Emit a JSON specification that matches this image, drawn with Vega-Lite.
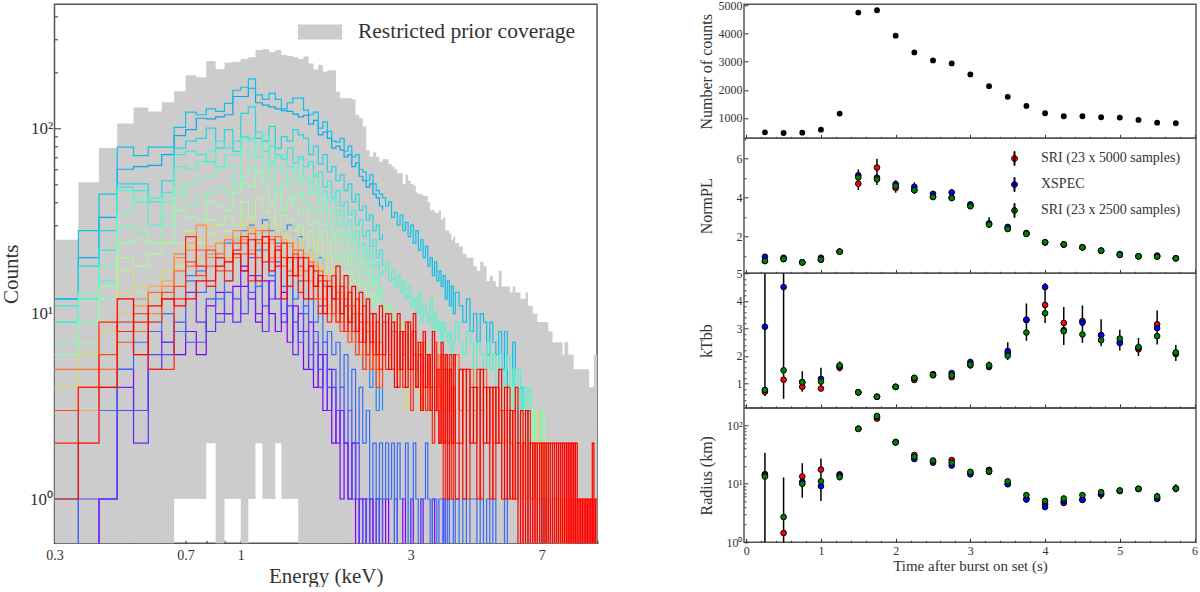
{"$schema":"https://vega.github.io/schema/vega-lite/v6.json","background":"white","padding":{"left":-0.5,"top":-1.7,"right":0,"bottom":0},"spacing":146.5,"bounds":"flush","config":{"font":"Liberation Serif","view":{"stroke":"#555","strokeWidth":1.5},"axis":{"grid":false,"domain":false,"labelFont":"Liberation Serif","titleFont":"Liberation Serif","labelColor":"#333","titleColor":"#333","tickColor":"#333","titleFontWeight":"normal","labelOverlap":false,"labelBound":false,"labelFlush":false},"legend":{"labelFont":"Liberation Serif","labelColor":"#333","labelLimit":400}},
"datasets":{"spec":[
{"e":0.3,"T":25,"L":0.5,"a":0.5,"b":0.5,"c":0.5,"d":0.5,"e1":1,"f":12,"g":12,"h":9,"i":11,"j":9,"k":6,"l":7,"m":6,"n":4,"o":5,"p":4,"q":3,"r":3,"s":3,"t":5,"u":3,"v":2,"w":1},
{"e":0.35,"T":51,"L":0.5,"a":0.5,"b":0.5,"c":1,"d":3,"e1":3,"f":20,"g":28,"h":18,"i":12,"j":12,"k":13,"l":9,"m":7,"n":6,"o":5,"p":6,"q":4,"r":3,"s":4,"t":5,"u":4,"v":4,"w":2},
{"e":0.4,"T":78,"L":0.5,"a":1,"b":1,"c":1,"d":3,"e1":4,"f":33,"g":44,"h":28,"i":22,"j":15,"k":18,"l":12,"m":14,"n":9,"o":6,"p":9,"q":8,"r":5,"s":4,"t":5,"u":6,"v":9,"w":4},
{"e":0.45,"T":106,"L":0.5,"a":5,"b":4,"c":3,"d":5,"e1":9,"f":60,"g":79,"h":50,"i":48,"j":46,"k":35,"l":30,"m":24,"n":20,"o":17,"p":13,"q":10,"r":12,"s":8,"t":9,"u":7,"v":8,"w":12},
{"e":0.5,"T":129,"L":0.5,"a":3,"b":2,"c":3,"d":7,"e1":12,"f":62,"g":71,"h":50,"i":46,"j":40,"k":42,"l":28,"m":25,"n":18,"o":13,"p":14,"q":12,"r":9,"s":11,"t":8,"u":10,"v":9,"w":6},
{"e":0.55,"T":123,"L":0.5,"a":8,"b":5,"c":6,"d":8,"e1":9,"f":63,"g":79,"h":42,"i":40,"j":30,"k":42,"l":24,"m":24,"n":21,"o":13,"p":12,"q":10,"r":14,"s":10,"t":13,"u":9,"v":5,"w":11},
{"e":0.6,"T":138,"L":0.5,"a":7,"b":7,"c":6,"d":10,"e1":12,"f":72,"g":79,"h":52,"i":45,"j":40,"k":33,"l":30,"m":24,"n":24,"o":17,"p":17,"q":14,"r":15,"s":14,"t":12,"u":13,"v":5,"w":12},
{"e":0.65,"T":158,"L":1,"a":6,"b":8,"c":9,"d":8,"e1":21,"f":91,"g":101,"h":78,"i":72,"j":62,"k":45,"l":48,"m":36,"n":24,"o":18,"p":22,"q":19,"r":21,"s":20,"t":17,"u":14,"v":12,"w":11},
{"e":0.7,"T":193,"L":1,"a":8,"b":13,"c":7,"d":15,"e1":16,"f":98,"g":122,"h":85,"i":75,"j":60,"k":50,"l":38,"m":33,"n":28,"o":22,"p":23,"q":27,"r":24,"s":22,"t":18,"u":19,"v":26,"w":12},
{"e":0.75,"T":188,"L":1,"a":6,"b":9,"c":7,"d":13,"e1":17,"f":113,"g":118,"h":88,"i":72,"j":66,"k":55,"l":42,"m":32,"n":24,"o":25,"p":25,"q":20,"r":18,"s":30,"t":22,"u":16,"v":18,"w":15},
{"e":0.8,"T":230,"L":2,"a":11,"b":8,"c":12,"d":14,"e1":21,"f":112,"g":127,"h":100,"i":66,"j":75,"k":55,"l":45,"m":40,"n":32,"o":27,"p":30,"q":21,"r":23,"s":20,"t":18,"u":22,"v":14,"w":15},
{"e":0.85,"T":208,"L":0.5,"a":13,"b":10,"c":9,"d":12,"e1":20,"f":115,"g":123,"h":78,"i":85,"j":62,"k":60,"l":48,"m":38,"n":30,"o":24,"p":23,"q":21,"r":18,"s":24,"t":21,"u":17,"v":20,"w":18},
{"e":0.9,"T":226,"L":1,"a":10,"b":10,"c":13,"d":15,"e1":24,"f":118,"g":136,"h":98,"i":78,"j":72,"k":63,"l":45,"m":36,"n":33,"o":28,"p":22,"q":26,"r":20,"s":19,"t":25,"u":17,"v":15,"w":19},
{"e":0.95,"T":228,"L":1,"a":14,"b":9,"c":12,"d":25,"e1":26,"f":148,"g":160,"h":75,"i":85,"j":72,"k":50,"l":48,"m":45,"n":30,"o":25,"p":26,"q":20,"r":24,"s":28,"t":20,"u":24,"v":22,"w":21},
{"e":1,"T":236,"L":0.5,"a":18,"b":14,"c":10,"d":17,"e1":28,"f":148,"g":166,"h":120,"i":90,"j":88,"k":78,"l":55,"m":50,"n":40,"o":30,"p":32,"q":24,"r":25,"s":25,"t":21,"u":24,"v":26,"w":17},
{"e":1.05,"T":241,"L":1,"a":12,"b":16,"c":13,"d":20,"e1":30,"f":164,"g":184,"h":130,"i":88,"j":85,"k":70,"l":62,"m":48,"n":33,"o":32,"p":27,"q":28,"r":29,"s":22,"t":27,"u":21,"v":15,"w":25},
{"e":1.1,"T":264,"L":2,"a":9,"b":10,"c":16,"d":14,"e1":22,"f":137,"g":151,"h":88,"i":95,"j":70,"k":82,"l":58,"m":58,"n":42,"o":28,"p":25,"q":25,"r":20,"s":28,"t":24,"u":20,"v":25,"w":15},
{"e":1.15,"T":266,"L":1,"a":15,"b":8,"c":11,"d":22,"e1":32,"f":133,"g":143,"h":85,"i":75,"j":92,"k":60,"l":52,"m":48,"n":35,"o":30,"p":30,"q":24,"r":26,"s":22,"t":28,"u":24,"v":19,"w":26},
{"e":1.2,"T":257,"L":1,"a":10,"b":15,"c":12,"d":16,"e1":28,"f":130,"g":154,"h":102,"i":80,"j":65,"k":66,"l":60,"m":40,"n":38,"o":33,"p":24,"q":21,"r":24,"s":26,"t":20,"u":19,"v":25,"w":17},
{"e":1.25,"T":264,"L":2,"a":8,"b":12,"c":18,"d":19,"e1":24,"f":127,"g":143,"h":78,"i":72,"j":70,"k":62,"l":46,"m":45,"n":30,"o":26,"p":28,"q":26,"r":18,"s":20,"t":26,"u":23,"v":18,"w":22},
{"e":1.3,"T":248,"L":1,"a":13,"b":9,"c":10,"d":14,"e1":28,"f":124,"g":127,"h":90,"i":68,"j":72,"k":58,"l":50,"m":36,"n":34,"o":28,"p":22,"q":20,"r":25,"s":24,"t":18,"u":20,"v":24,"w":12},
{"e":1.35,"T":245,"L":1,"a":7,"b":11,"c":14,"d":17,"e1":30,"f":123,"g":137,"h":85,"i":78,"j":62,"k":52,"l":48,"m":42,"n":32,"o":24,"p":26,"q":23,"r":19,"s":17,"t":24,"u":16,"v":14,"w":20},
{"e":1.4,"T":241,"L":1,"a":11,"b":6,"c":9,"d":12,"e1":22,"f":119,"g":145,"h":98,"i":65,"j":60,"k":60,"l":42,"m":38,"n":28,"o":28,"p":21,"q":18,"r":24,"s":22,"t":16,"u":21,"v":20,"w":16},
{"e":1.45,"T":236,"L":0.5,"a":8,"b":10,"c":7,"d":15,"e1":26,"f":115,"g":145,"h":92,"i":70,"j":68,"k":50,"l":45,"m":34,"n":30,"o":22,"p":24,"q":22,"r":17,"s":16,"t":22,"u":18,"v":13,"w":20},
{"e":1.5,"T":243,"L":0.5,"a":5,"b":8,"c":11,"d":10,"e1":20,"f":117,"g":125,"h":88,"i":62,"j":55,"k":55,"l":40,"m":36,"n":26,"o":26,"p":19,"q":16,"r":21,"s":20,"t":17,"u":15,"v":20,"w":12},
{"e":1.55,"T":223,"L":0.5,"a":9,"b":5,"c":6,"d":12,"e1":22,"f":105,"g":118,"h":72,"i":66,"j":50,"k":44,"l":38,"m":30,"n":28,"o":20,"p":22,"q":20,"r":15,"s":15,"t":19,"u":18,"v":12,"w":18},
{"e":1.6,"T":207,"L":0.5,"a":4,"b":7,"c":8,"d":9,"e1":17,"f":110,"g":122,"h":80,"i":55,"j":56,"k":48,"l":35,"m":32,"n":22,"o":24,"p":17,"q":14,"r":19,"s":18,"t":14,"u":12,"v":17,"w":14},
{"e":1.65,"T":219,"L":0.5,"a":6,"b":4,"c":5,"d":11,"e1":20,"f":92,"g":100,"h":64,"i":58,"j":44,"k":38,"l":36,"m":26,"n":25,"o":17,"p":18,"q":18,"r":14,"s":12,"t":17,"u":15,"v":10,"w":16},
{"e":1.7,"T":201,"L":0.5,"a":3,"b":6,"c":7,"d":7,"e1":14,"f":95,"g":108,"h":72,"i":48,"j":46,"k":42,"l":30,"m":28,"n":20,"o":20,"p":15,"q":12,"r":16,"s":16,"t":12,"u":11,"v":15,"w":10},
{"e":1.75,"T":205,"L":0.5,"a":5,"b":3,"c":4,"d":8,"e1":16,"f":88,"g":96,"h":58,"i":52,"j":40,"k":35,"l":32,"m":24,"n":22,"o":15,"p":16,"q":15,"r":11,"s":10,"t":15,"u":14,"v":9,"w":14},
{"e":1.8,"T":205,"L":0.5,"a":2,"b":4,"c":5,"d":6,"e1":12,"f":78,"g":85,"h":62,"i":42,"j":42,"k":36,"l":26,"m":26,"n":17,"o":17,"p":13,"q":11,"r":14,"s":14,"t":10,"u":10,"v":16,"w":12},
{"e":1.85,"T":157,"L":0.5,"a":3,"b":2,"c":3,"d":7,"e1":14,"f":80,"g":84,"h":52,"i":46,"j":34,"k":30,"l":28,"m":20,"n":19,"o":13,"p":14,"q":13,"r":10,"s":9,"t":13,"u":12,"v":9,"w":18},
{"e":1.9,"T":145,"L":0.5,"a":1,"b":3,"c":4,"d":4,"e1":10,"f":76,"g":88,"h":56,"i":38,"j":36,"k":32,"l":24,"m":22,"n":15,"o":15,"p":11,"q":10,"r":13,"s":12,"t":9,"u":8,"v":14,"w":10},
{"e":1.95,"T":145,"L":0.5,"a":2,"b":2,"c":2,"d":6,"e1":11,"f":70,"g":75,"h":46,"i":40,"j":30,"k":26,"l":25,"m":18,"n":17,"o":12,"p":13,"q":12,"r":9,"s":8,"t":12,"u":11,"v":8,"w":16},
{"e":2,"T":145,"L":0.5,"a":1,"b":1,"c":3,"d":3,"e1":8,"f":72,"g":80,"h":50,"i":34,"j":32,"k":28,"l":20,"m":20,"n":13,"o":14,"p":10,"q":9,"r":12,"s":11,"t":8,"u":7,"v":13,"w":9},
{"e":2.05,"T":143,"L":0.5,"a":2,"b":2,"c":1,"d":5,"e1":9,"f":62,"g":70,"h":40,"i":36,"j":26,"k":24,"l":22,"m":16,"n":15,"o":10,"p":12,"q":11,"r":8,"s":7,"t":11,"u":10,"v":8,"w":14},
{"e":2.1,"T":118,"L":0.5,"a":0.5,"b":1,"c":2,"d":2,"e1":6,"f":65,"g":72,"h":44,"i":30,"j":28,"k":25,"l":18,"m":17,"n":11,"o":12,"p":9,"q":8,"r":11,"s":10,"t":7,"u":6,"v":12,"w":8},
{"e":2.15,"T":113,"L":0.5,"a":1,"b":0.5,"c":1,"d":4,"e1":7,"f":55,"g":60,"h":36,"i":32,"j":23,"k":20,"l":19,"m":14,"n":13,"o":9,"p":10,"q":10,"r":7,"s":6,"t":10,"u":9,"v":7,"w":13},
{"e":2.2,"T":102,"L":0.5,"a":1,"b":1,"c":0.5,"d":2,"e1":5,"f":52,"g":58,"h":38,"i":26,"j":24,"k":22,"l":16,"m":15,"n":10,"o":11,"p":8,"q":7,"r":10,"s":9,"t":6,"u":5,"v":11,"w":7},
{"e":2.25,"T":76,"L":0.5,"a":0.5,"b":0.5,"c":1,"d":3,"e1":6,"f":48,"g":52,"h":32,"i":28,"j":20,"k":18,"l":17,"m":12,"n":12,"o":8,"p":9,"q":9,"r":6,"s":5,"t":9,"u":8,"v":6,"w":12},
{"e":2.3,"T":70,"L":0.5,"a":1,"b":1,"c":0.5,"d":1,"e1":4,"f":50,"g":56,"h":34,"i":23,"j":22,"k":19,"l":14,"m":13,"n":9,"o":10,"p":7,"q":6,"r":9,"s":8,"t":5,"u":5,"v":10,"w":7},
{"e":2.35,"T":74,"L":0.5,"a":0.5,"b":0.5,"c":0.5,"d":2,"e1":5,"f":44,"g":50,"h":28,"i":25,"j":18,"k":15,"l":15,"m":11,"n":10,"o":7,"p":8,"q":8,"r":5,"s":5,"t":8,"u":7,"v":6,"w":10},
{"e":2.4,"T":70,"L":0.5,"a":0.5,"b":1,"c":1,"d":1,"e1":3,"f":42,"g":46,"h":30,"i":20,"j":19,"k":16,"l":12,"m":12,"n":8,"o":9,"p":6,"q":5,"r":8,"s":7,"t":5,"u":4,"v":9,"w":6},
{"e":2.45,"T":66,"L":0.5,"a":1,"b":0.5,"c":0.5,"d":2,"e1":4,"f":38,"g":44,"h":25,"i":22,"j":16,"k":13,"l":13,"m":10,"n":9,"o":6,"p":7,"q":7,"r":5,"s":4,"t":7,"u":6,"v":5,"w":11},
{"e":2.5,"T":68,"L":0.5,"a":0.5,"b":0.5,"c":1,"d":1,"e1":3,"f":36,"g":42,"h":27,"i":18,"j":17,"k":14,"l":11,"m":11,"n":7,"o":8,"p":6,"q":5,"r":7,"s":6,"t":6,"u":4,"v":9,"w":6},
{"e":2.55,"T":68,"L":0.5,"a":1,"d":2,"g":38,"j":19,"m":10,"p":5,"t":9,"v":5,"w":10},
{"e":2.6,"T":64,"L":0.5,"a":0.5,"d":1,"g":40,"j":15,"m":11,"p":7,"t":6,"v":10,"w":5},
{"e":2.65,"T":62,"L":0.5,"a":0.5,"d":2,"g":33,"j":17,"m":9,"p":5,"t":8,"v":5,"w":9},
{"e":2.7,"T":60,"L":0.5,"a":1,"d":0.5,"g":35,"j":14,"m":10,"p":6,"t":9,"v":8,"w":4},
{"e":2.75,"T":57,"L":0.5,"a":0.5,"d":2,"g":30,"j":16,"m":8,"p":4,"t":5,"v":4,"w":10},
{"e":2.8,"T":57,"L":0.5,"a":0.5,"d":1,"g":34,"j":13,"m":9,"p":6,"t":8,"v":8,"w":5},
{"e":2.85,"T":50,"L":0.5,"a":1,"d":1,"g":28,"j":15,"m":7,"p":5,"t":6,"v":4,"w":8},
{"e":2.9,"T":56,"L":0.5,"a":0.5,"d":2,"g":31,"j":12,"m":8,"p":3,"t":9,"v":9,"w":4},
{"e":2.95,"T":52,"L":0.5,"a":0.5,"d":0.5,"g":26,"j":14,"m":9,"p":5,"t":5,"v":5,"w":9},
{"e":3,"T":50,"L":0.5,"a":1,"d":1,"g":30,"j":11,"m":7,"p":6,"t":8,"v":3,"w":5},
{"e":3.05,"T":49,"L":0.5,"a":0.5,"d":2,"g":24,"j":12,"m":8,"p":4,"t":6,"v":8,"w":10},
{"e":3.1,"T":45,"L":0.5,"a":0.5,"d":1,"g":28,"j":10,"m":6,"p":5,"t":5,"v":4,"w":4},
{"e":3.15,"T":44,"L":0.5,"a":0.5,"d":0.5,"g":22,"j":13,"m":7,"p":3,"t":7,"v":6,"w":7},
{"e":3.2,"T":44,"L":0.5,"a":1,"d":1,"g":25,"j":9,"m":6,"p":5,"t":6,"v":3,"w":3},
{"e":3.25,"T":43,"L":0.5,"a":0.5,"d":1,"g":20,"j":11,"m":5,"p":4,"t":4,"v":7,"w":8},
{"e":3.3,"T":43,"L":0.5,"a":0.5,"d":2,"g":23,"j":10,"m":7,"p":3,"t":6,"v":3,"w":4},
{"e":3.35,"T":40,"L":0.5,"a":0.5,"d":1,"g":18,"j":9,"m":5,"p":5,"t":3,"v":6,"w":6},
{"e":3.4,"T":36,"L":0.5,"a":0.5,"d":0.5,"g":20,"j":12,"m":6,"p":4,"t":6,"v":4,"w":3},
{"e":3.45,"T":36,"L":0.5,"a":1,"d":1,"g":16,"j":8,"m":4,"p":2,"t":4,"v":2,"w":8},
{"e":3.5,"T":35,"L":0.5,"a":0.5,"d":1,"g":19,"j":10,"m":6,"p":4,"t":3,"v":7,"w":3},
{"e":3.55,"T":35,"L":0.5,"a":0.5,"d":0.5,"g":15,"j":8,"m":5,"p":3,"t":6,"v":3,"w":5},
{"e":3.6,"T":36,"L":0.5,"a":0.5,"d":1,"g":17,"j":9,"m":4,"p":5,"t":4,"v":2,"w":2},
{"e":3.65,"T":32,"L":0.5,"a":0.5,"d":1,"g":14,"j":7,"m":6,"p":3,"t":3,"v":6,"w":7},
{"e":3.7,"T":33,"L":0.5,"a":1,"d":0.5,"g":16,"j":9,"m":5,"p":4,"t":5,"v":1,"w":2},
{"e":3.75,"T":28,"L":0.5,"a":0.5,"d":1,"g":12,"j":8,"m":4,"p":2,"t":6,"v":5,"w":6},
{"e":3.8,"T":28,"L":0.5,"a":0.5,"d":0.5,"g":15,"j":7,"m":6,"p":4,"t":3,"v":2,"w":1},
{"e":3.85,"T":27,"L":0.5,"a":0.5,"d":1,"g":11,"j":8,"m":4,"p":3,"t":5,"v":6,"w":5},
{"e":3.9,"T":25,"L":0.5,"a":0.5,"d":1,"g":14,"j":6,"m":5,"p":2,"t":3,"v":1,"w":2},
{"e":3.95,"T":26,"L":0.5,"a":0.5,"d":0.5,"g":10,"j":7,"m":4,"p":4,"t":5,"v":4,"w":6},
{"e":4,"T":24,"L":0.5,"a":0.5,"d":1,"g":13,"j":9,"m":3,"p":3,"t":6,"v":2,"w":1},
{"e":4.1,"T":23,"L":0.5,"d":0.5,"g":11,"j":7,"m":5,"p":2,"t":3,"v":2,"w":5},
{"e":4.2,"T":21,"L":0.5,"d":1,"g":9,"j":6,"m":4,"p":4,"t":5,"v":5,"w":1},
{"e":4.3,"T":20,"L":0.5,"d":0.5,"g":12,"j":8,"m":3,"p":3,"t":3,"v":1,"w":5},
{"e":4.4,"T":20,"L":0.5,"d":1,"g":8,"j":7,"m":5,"p":2,"t":5,"v":4,"w":2},
{"e":4.5,"T":18,"L":0.5,"d":1,"g":10,"j":5,"m":4,"p":3,"t":3,"v":2,"w":4},
{"e":4.6,"T":17,"L":0.5,"d":0.5,"g":7,"j":7,"m":3,"p":4,"t":4,"v":5,"w":1},
{"e":4.7,"T":19,"L":0.5,"d":1,"g":10,"j":6,"m":5,"p":2,"t":3,"v":1,"w":5},
{"e":4.8,"T":18,"L":0.5,"d":0.5,"g":9,"j":5,"m":3,"p":3,"t":5,"v":4,"w":2},
{"e":4.9,"T":15,"L":0.5,"d":1,"g":6,"j":7,"m":4,"p":2,"t":2,"v":2,"w":4},
{"e":5,"T":16,"L":0.5,"d":0.5,"g":9,"j":5,"m":3,"p":3,"t":4,"v":4,"w":1},
{"e":5.1,"T":15,"L":0.5,"d":1,"g":7,"j":6,"m":4,"p":2,"t":2,"v":1,"w":4},
{"e":5.2,"T":14,"L":0.5,"d":0.5,"g":6,"j":4,"m":3,"p":3,"t":4,"v":4,"w":2},
{"e":5.3,"T":17,"L":0.5,"d":0.5,"g":8,"j":6,"m":4,"p":2,"t":3,"v":2,"w":5},
{"e":5.4,"T":14,"L":0.5,"d":0.5,"g":5,"j":4,"m":3,"p":3,"t":2,"v":3,"w":1},
{"e":5.5,"T":14,"L":0.5,"d":1,"g":8,"j":5,"m":4,"p":2,"t":3,"v":1,"w":4},
{"e":5.6,"T":14,"L":0.5,"d":0.5,"g":4,"j":6,"m":3,"p":3,"t":3,"v":4,"w":1},
{"e":5.7,"T":13,"L":0.5,"g":3,"j":4,"m":4,"p":2,"t":2,"v":1,"w":3},
{"e":5.8,"T":14,"L":0.5,"g":7,"j":5,"m":2,"p":3,"t":1,"v":3,"w":1},
{"e":5.9,"T":13,"L":0.5,"g":3,"j":3,"m":4,"p":2,"t":2,"v":1,"w":4},
{"e":6,"T":13,"L":0.5,"g":2,"j":5,"m":3,"p":2,"t":2,"v":2,"w":0.5},
{"e":6.1,"T":12,"L":0.5,"g":4,"j":3,"m":2,"p":3,"t":1,"v":0.5,"w":3},
{"e":6.2,"T":12,"L":0.5,"g":2,"j":4,"m":3,"p":2,"t":2,"v":2,"w":0.5},
{"e":6.3,"T":13,"L":0.5,"g":3,"j":3,"m":2,"p":1,"t":1,"v":0.5,"w":3},
{"e":6.4,"T":11,"L":0.5,"g":2,"j":4,"m":3,"p":2,"t":2,"v":3,"w":0.5},
{"e":6.5,"T":11,"L":0.5,"g":1,"j":2,"m":2,"p":2,"t":1,"v":0.5,"w":2},
{"e":6.6,"T":10,"L":0.5,"g":1,"j":3,"m":3,"p":1,"t":2,"v":2,"w":0.5},
{"e":6.7,"T":10,"L":0.5,"g":2,"j":2,"m":1,"p":2,"t":1,"v":0.5,"w":2},
{"e":6.8,"T":9,"L":0.5,"g":0.5,"j":2,"m":2,"p":3,"t":1,"v":2,"w":0.5},
{"e":6.9,"T":9,"L":0.5,"g":1,"j":3,"m":1,"p":1,"t":2,"v":0.5,"w":2},
{"e":7,"T":9,"L":0.5,"g":0.5,"j":1,"m":3,"p":2,"t":1,"v":2,"w":0.5},
{"e":7.1,"T":9,"L":0.5,"g":1,"j":2,"m":1,"p":1,"t":1,"v":0.5,"w":2},
{"e":7.2,"T":9,"L":0.5,"g":0.5,"j":1,"m":2,"p":2,"t":0.5,"v":2,"w":0.5},
{"e":7.3,"T":8,"L":0.5,"j":0.5,"m":1,"p":1,"t":1,"v":0.5,"w":2},
{"e":7.4,"T":8,"L":0.5,"j":2,"m":1,"p":1,"t":0.5,"v":2,"w":0.5},
{"e":7.5,"T":7,"L":0.5,"j":1,"m":2,"p":2,"t":1,"v":0.5,"w":2},
{"e":7.6,"T":7,"L":0.5,"j":0.5,"m":1,"p":1,"t":0.5,"v":2,"w":0.5},
{"e":7.7,"T":7,"L":0.5,"j":1,"m":0.5,"p":1,"t":1,"v":0.5,"w":2},
{"e":7.8,"T":7,"L":0.5,"m":1,"p":0.5,"t":0.5,"v":2,"w":0.5},
{"e":7.9,"T":7,"L":0.5,"m":0.5,"p":1,"t":1,"v":0.5,"w":2},
{"e":8,"T":6,"L":0.5,"m":1,"p":0.5,"t":0.5,"v":2,"w":0.5},
{"e":8.1,"T":7,"L":0.5,"p":1,"t":1,"v":0.5,"w":2},
{"e":8.2,"T":7,"L":0.5,"p":0.5,"t":0.5,"v":2,"w":0.5},
{"e":8.3,"T":6,"L":0.5,"p":1,"t":1,"v":0.5,"w":2},
{"e":8.4,"T":6,"L":0.5,"p":0.5,"t":0.5,"v":2,"w":0.5},
{"e":8.5,"T":6,"L":0.5,"t":1,"v":0.5,"w":2},
{"e":8.6,"T":5,"L":0.5,"t":0.5,"v":2,"w":0.5},
{"e":8.7,"T":5,"L":0.5,"t":1,"v":0.5,"w":2},
{"e":8.8,"T":5,"L":0.5,"t":0.5,"v":1,"w":0.5},
{"e":8.9,"T":5,"L":0.5,"v":0.5,"w":1},
{"e":9,"T":5,"L":0.5,"v":1,"w":0.5},
{"e":9.1,"T":5,"L":0.5,"v":0.5,"w":1},
{"e":9.2,"T":5,"L":0.5,"v":1,"w":0.5},
{"e":9.3,"T":5,"L":0.5,"v":0.5,"w":1},
{"e":9.4,"T":5,"L":0.5,"v":1,"w":0.5},
{"e":9.5,"T":4,"L":0.5,"v":0.5,"w":1},
{"e":9.6,"T":4,"L":0.5,"v":1,"w":0.5},
{"e":9.7,"T":4,"L":0.5,"v":0.5,"w":2},
{"e":9.8,"T":6,"L":0.5,"v":1,"w":0.5},
{"e":9.9,"T":6,"L":0.5,"v":0.5,"w":1},
{"e":10,"T":6,"L":0.5,"v":1,"w":1}
],
"cnt":[{"t":0.25,"n":488},{"t":0.5,"n":464},{"t":0.75,"n":476},{"t":1,"n":583},{"t":1.25,"n":1155},{"t":1.5,"n":4750},{"t":1.75,"n":4833},{"t":2,"n":3929},{"t":2.25,"n":3333},{"t":2.5,"n":3048},{"t":2.75,"n":2940},{"t":3,"n":2548},{"t":3.25,"n":2131},{"t":3.5,"n":1750},{"t":3.75,"n":1429},{"t":4,"n":1167},{"t":4.25,"n":1060},{"t":4.5,"n":1060},{"t":4.75,"n":1024},{"t":5,"n":1012},{"t":5.25,"n":929},{"t":5.5,"n":833},{"t":5.75,"n":810}],
"err":[
{"t":0.25,"nl":0.65,"nh":1.1,"kl":0.55,"kh":5,"rl":0.5,"rh":34},
{"t":0.5,"nl":0.7,"nh":1.05,"kl":0.45,"kh":5,"rl":0.5,"rh":12.8},
{"t":0.75,"nl":0.6,"nh":0.78,"kl":0.7,"kh":1.45,"rl":5.8,"rh":22.5},
{"t":1,"nl":0.72,"nh":1.05,"kl":0.73,"kh":1.57,"rl":5.1,"rh":27},
{"t":1.25,"nl":1.12,"nh":1.34,"kl":1.45,"kh":1.8,"rl":11.5,"rh":16},
{"t":1.5,"nl":4.4,"nh":5.45,"kl":0.62,"kh":0.74,"rl":82,"rh":92},
{"t":1.75,"nl":4.65,"nh":6,"kl":0.46,"kh":0.58,"rl":120,"rh":155},
{"t":2,"nl":4.25,"nh":4.9,"kl":0.82,"kh":0.94,"rl":47,"rh":56},
{"t":2.25,"nl":4.2,"nh":4.8,"kl":1.05,"kh":1.28,"rl":25,"rh":33},
{"t":2.5,"nl":3.9,"nh":4.35,"kl":1.24,"kh":1.42,"rl":21.5,"rh":27},
{"t":2.75,"nl":3.85,"nh":4.45,"kl":1.17,"kh":1.45,"rl":19.5,"rh":27},
{"t":3,"nl":3.45,"nh":3.8,"kl":1.55,"kh":1.9,"rl":13.5,"rh":17.5},
{"t":3.25,"nl":2.45,"nh":3,"kl":1.5,"kh":1.8,"rl":14.5,"rh":19},
{"t":3.5,"nl":2.3,"nh":2.6,"kl":1.85,"kh":2.5,"rl":8.8,"rh":12},
{"t":3.75,"nl":2.05,"nh":2.3,"kl":2.55,"kh":3.9,"rl":4.8,"rh":7},
{"t":4,"nl":1.62,"nh":1.8,"kl":3.2,"kh":4.65,"rl":3.7,"rh":5.6},
{"t":4.25,"nl":1.52,"nh":1.68,"kl":2.4,"kh":3.78,"rl":4.2,"rh":6.3},
{"t":4.5,"nl":1.38,"nh":1.52,"kl":2.48,"kh":3.83,"rl":4.7,"rh":7},
{"t":4.75,"nl":1.2,"nh":1.36,"kl":2.35,"kh":3.33,"rl":5.5,"rh":8},
{"t":5,"nl":0.98,"nh":1.2,"kl":2.2,"kh":2.95,"rl":6.7,"rh":8.6},
{"t":5.25,"nl":0.92,"nh":1.06,"kl":2,"kh":2.65,"rl":7.2,"rh":9.2},
{"t":5.5,"nl":0.9,"nh":1.1,"kl":2.42,"kh":3.65,"rl":4.9,"rh":7},
{"t":5.75,"nl":0.83,"nh":0.96,"kl":1.82,"kh":2.4,"rl":7.2,"rh":9.8}],
"fit":[
{"t":0.25,"m":"A","n":0.75,"k":0.7,"r":14.6},{"t":0.5,"m":"A","n":0.85,"k":1.14,"r":1.44},{"t":0.75,"m":"A","n":0.68,"k":0.88,"r":13.3},{"t":1,"m":"A","n":0.82,"k":0.82,"r":17.5},{"t":1.25,"m":"A","n":1.23,"k":1.57,"r":14.5},{"t":1.5,"m":"A","n":4.72,"k":0.68,"r":87},{"t":1.75,"m":"A","n":5.55,"k":0.52,"r":130},{"t":2,"m":"A","n":4.5,"k":0.88,"r":52},{"t":2.25,"m":"A","n":4.4,"k":1.13,"r":31},{"t":2.5,"m":"A","n":4.05,"k":1.3,"r":24},{"t":2.75,"m":"A","n":4,"k":1.23,"r":25.5},{"t":3,"m":"A","n":3.6,"k":1.66,"r":15.5},{"t":3.25,"m":"A","n":2.65,"k":1.6,"r":17.3},{"t":3.5,"m":"A","n":2.42,"k":2.1,"r":10},{"t":3.75,"m":"A","n":2.16,"k":3.3,"r":5.5},{"t":4,"m":"A","n":1.71,"k":3.85,"r":4.5},{"t":4.25,"m":"A","n":1.6,"k":3.2,"r":4.7},{"t":4.5,"m":"A","n":1.45,"k":3.27,"r":5.4},{"t":4.75,"m":"A","n":1.28,"k":2.75,"r":6.6},{"t":5,"m":"A","n":1.07,"k":2.5,"r":7.6},{"t":5.25,"m":"A","n":0.99,"k":2.24,"r":8.2},{"t":5.5,"m":"A","n":1,"k":3.15,"r":5.7},{"t":5.75,"m":"A","n":0.89,"k":2.07,"r":8.3},
{"t":0.25,"m":"B","n":0.97,"k":3.06,"r":14},{"t":0.5,"m":"B","n":0.92,"k":4.5,"r":0.6},{"t":0.75,"m":"B","n":0.68,"k":1.05,"r":10.8},{"t":1,"m":"B","n":0.92,"k":1.17,"r":9.1},{"t":1.25,"m":"B","n":1.23,"k":1.63,"r":14},{"t":1.5,"m":"B","n":5.15,"k":0.68,"r":87},{"t":1.75,"m":"B","n":5.03,"k":0.52,"r":140},{"t":2,"m":"B","n":4.7,"k":0.88,"r":51},{"t":2.25,"m":"B","n":4.56,"k":1.19,"r":26.5},{"t":2.5,"m":"B","n":4.2,"k":1.34,"r":23},{"t":2.75,"m":"B","n":4.27,"k":1.38,"r":20.5},{"t":3,"m":"B","n":3.66,"k":1.78,"r":14.5},{"t":3.25,"m":"B","n":2.68,"k":1.65,"r":16},{"t":3.5,"m":"B","n":2.5,"k":2.18,"r":9.8},{"t":3.75,"m":"B","n":2.19,"k":3.32,"r":5.4},{"t":4,"m":"B","n":1.71,"k":4.5,"r":4},{"t":4.25,"m":"B","n":1.6,"k":2.94,"r":5},{"t":4.5,"m":"B","n":1.45,"k":3.21,"r":5.3},{"t":4.75,"m":"B","n":1.28,"k":2.76,"r":6.6},{"t":5,"m":"B","n":1.11,"k":2.47,"r":7.5},{"t":5.25,"m":"B","n":0.99,"k":2.3,"r":8.2},{"t":5.5,"m":"B","n":1.03,"k":3.01,"r":5.5},{"t":5.75,"m":"B","n":0.89,"k":2.1,"r":8.3},
{"t":0.25,"m":"C","n":0.75,"k":0.77,"r":13.3},{"t":0.5,"m":"C","n":0.85,"k":1.48,"r":2.7},{"t":0.75,"m":"C","n":0.68,"k":1.05,"r":10},{"t":1,"m":"C","n":0.82,"k":1.07,"r":11},{"t":1.25,"m":"C","n":1.23,"k":1.66,"r":13},{"t":1.5,"m":"C","n":5.04,"k":0.68,"r":87},{"t":1.75,"m":"C","n":4.94,"k":0.52,"r":144},{"t":2,"m":"C","n":4.6,"k":0.88,"r":51},{"t":2.25,"m":"C","n":4.38,"k":1.21,"r":29},{"t":2.5,"m":"C","n":4.03,"k":1.31,"r":25},{"t":2.75,"m":"C","n":3.98,"k":1.3,"r":23},{"t":3,"m":"C","n":3.56,"k":1.69,"r":16},{"t":3.25,"m":"C","n":2.62,"k":1.66,"r":16.3},{"t":3.5,"m":"C","n":2.39,"k":2.01,"r":11},{"t":3.75,"m":"C","n":2.14,"k":2.85,"r":6.4},{"t":4,"m":"C","n":1.71,"k":3.55,"r":5.1},{"t":4.25,"m":"C","n":1.6,"k":2.9,"r":5.6},{"t":4.5,"m":"C","n":1.45,"k":2.78,"r":6.4},{"t":4.75,"m":"C","n":1.28,"k":2.57,"r":7.2},{"t":5,"m":"C","n":1.06,"k":2.63,"r":7.7},{"t":5.25,"m":"C","n":0.99,"k":2.32,"r":8.2},{"t":5.5,"m":"C","n":0.97,"k":2.72,"r":6.1},{"t":5.75,"m":"C","n":0.89,"k":2.13,"r":8.3}]
},
"hconcat":[
{"width":542.5,"height":539,"data":{"name":"spec"},
"encoding":{"x":{"field":"e","type":"quantitative","scale":{"type":"log","domain":[0.3,10]},"axis":{"title":"Energy (keV)","titleFontSize":21,"titlePadding":3,"labelFontSize":14,"labelPadding":8,"values":[0.3,0.4,0.5,0.6,0.7,0.8,0.9,1,2,3,4,5,6,7,8,9,10],"labelExpr":"indexof([0.3,0.7,1,3,7],datum.value)>=0?datum.value+'':''","tickSize":-3,"tickWidth":1}},
"y":{"type":"quantitative","scale":{"type":"log","domain":[0.577,465]},"axis":{"title":"Counts","titleFontSize":21,"titleX":-33,"labelFontSize":17,"labelPadding":8,"values":[0.6,0.7,0.8,0.9,1,2,3,4,5,6,7,8,9,10,20,30,40,50,60,70,80,90,100,200,300,400],"labelExpr":"datum.value==1?'10⁰':datum.value==10?'10¹':datum.value==100?'10²':''","tickSize":{"condition":{"test":"datum.value==1||datum.value==10||datum.value==100","value":-6},"value":-3}}}},
"layer":[
{"mark":{"type":"area","interpolate":"step-after","clip":true},"encoding":{"y":{"field":"T","type":"quantitative"},"y2":{"field":"L"},"color":{"datum":"Restricted prior coverage","scale":{"range":["#cccccc"]},"legend":{"title":null,"orient":"none","legendX":243.5,"legendY":5.7,"padding":0,"labelFontSize":21.5,"labelOffset":16,"symbolType":"M-1,-0.34H1V0.34H-1Z","symbolSize":1936,"symbolStrokeWidth":0,"symbolOpacity":1}}}},
{"transform":[{"fold":["a","b","c","d","e1","f","g","h","i","j","k","l","m","n","o","p","q","r","s","t","u","v","w"],"as":["s","c"]},{"filter":"isValid(datum.c)"}],"mark":{"type":"line","interpolate":"step-after","clip":true,"strokeWidth":1.2},"encoding":{"y":{"field":"c","type":"quantitative"},"color":{"field":"s","type":"nominal","legend":null,"scale":{"domain":["a","b","c","d","e1","f","g","h","i","j","k","l","m","n","o","p","q","r","s","t","u","v","w"],"range":["#7f00ff","#6824fe","#5148fc","#3a6af9","#238af5","#0ca7ef","#0cc1e8","#23d6e0","#3ae8d6","#51f5cc","#68fcc1","#7fffb4","#97fca7","#aef599","#c5e88a","#dcd67a","#f3c16a","#ffa759","#ff8a48","#ff6a36","#ff4824","#ff2412","#ff0000"]}}}}
],"resolve":{"scale":{"color":"independent"}}},
{"vconcat":[
{"width":452,"height":134,"data":{"name":"cnt"},"mark":{"type":"circle","size":34,"color":"black","opacity":1},"encoding":{"x":{"field":"t","type":"quantitative","scale":{"domain":[-0.03,6.02]},"axis":{"title":null,"labels":false,"values":[0,0.2,0.4,0.6,0.8,1,1.2,1.4,1.6,1.8,2,2.2,2.4,2.6,2.8,3,3.2,3.4,3.6,3.8,4,4.2,4.4,4.6,4.8,5,5.2,5.4,5.6,5.8,6],"tickSize":{"condition":{"test":"datum.value%1==0","value":-4},"value":-2}}},"y":{"field":"n","type":"quantitative","scale":{"domain":[275,5046]},"axis":{"title":"Number of counts","titleFontSize":16,"titleX":-29,"labelFontSize":12,"labelPadding":6,"format":"d","values":[1000,2000,3000,4000,5000],"tickSize":-4}}}},
{"width":452,"height":135,"encoding":{"x":{"field":"t","type":"quantitative","scale":{"domain":[-0.03,6.02]},"axis":{"title":null,"labels":false,"values":[0,0.2,0.4,0.6,0.8,1,1.2,1.4,1.6,1.8,2,2.2,2.4,2.6,2.8,3,3.2,3.4,3.6,3.8,4,4.2,4.4,4.6,4.8,5,5.2,5.4,5.6,5.8,6],"tickSize":{"condition":{"test":"datum.value%1==0","value":-4},"value":-2}}},"y":{"type":"quantitative","scale":{"domain":[0.12,7.05]},"axis":{"title":"NormPL","titleFontSize":16,"titleX":-29,"labelFontSize":12,"labelPadding":6,"values":[1,2,3,4,5,6,7],"labelExpr":"datum.value%2==0?datum.value+'':''","tickSize":{"condition":{"test":"datum.value%2==0","value":-4},"value":-2}}}},"layer":[
{"data":{"name":"err"},"mark":{"type":"rule","color":"black","strokeWidth":1.5,"clip":true},"encoding":{"y":{"field":"nl","type":"quantitative"},"y2":{"field":"nh"}}},
{"data":{"name":"fit"},"mark":{"type":"point","filled":true,"size":32,"stroke":"black","strokeWidth":1,"opacity":1},"encoding":{"y":{"field":"n","type":"quantitative"},"color":{"field":"m","type":"nominal","scale":{"domain":["A","B","C"],"range":["#ff0000","#0000ff","#008000"]},"legend":{"title":null,"orient":"none","legendX":952.5,"legendY":146.7,"padding":0,"labelFontSize":14,"labelOffset":19,"rowPadding":7,"symbolSize":196,"symbolType":"M-0.07,-1H0.07V1H-0.07Z M-0.43,0 A0.43,0.43 0 1 1 0.43,0 A0.43,0.43 0 1 1 -0.43,0 Z","symbolStrokeColor":"black","symbolStrokeWidth":1,"symbolOpacity":1,"labelExpr":"datum.label=='A'?'SRI (23 x 5000 samples)':datum.label=='B'?'XSPEC':'SRI (23 x 2500 samples)'"}}}}
]},
{"width":452,"height":134.5,"encoding":{"x":{"field":"t","type":"quantitative","scale":{"domain":[-0.03,6.02]},"axis":{"title":null,"labels":false,"values":[0,0.2,0.4,0.6,0.8,1,1.2,1.4,1.6,1.8,2,2.2,2.4,2.6,2.8,3,3.2,3.4,3.6,3.8,4,4.2,4.4,4.6,4.8,5,5.2,5.4,5.6,5.8,6],"tickSize":{"condition":{"test":"datum.value%1==0","value":-4},"value":-2}}},"y":{"type":"quantitative","scale":{"domain":[0.12,5]},"axis":{"title":"kTbb","titleFontSize":16,"titleX":-29,"labelFontSize":12,"labelPadding":6,"values":[0.2,0.4,0.6,0.8,1,1.2,1.4,1.6,1.8,2,2.2,2.4,2.6,2.8,3,3.2,3.4,3.6,3.8,4,4.2,4.4,4.6,4.8,5],"labelExpr":"datum.value%1==0?datum.value+'':''","tickSize":{"condition":{"test":"datum.value%1==0","value":-4},"value":-2}}}},"layer":[
{"data":{"name":"err"},"mark":{"type":"rule","color":"black","strokeWidth":1.5,"clip":true},"encoding":{"y":{"field":"kl","type":"quantitative"},"y2":{"field":"kh"}}},
{"data":{"name":"fit"},"mark":{"type":"point","filled":true,"size":32,"stroke":"black","strokeWidth":1,"opacity":1},"encoding":{"y":{"field":"k","type":"quantitative"},"color":{"field":"m","type":"nominal","scale":{"domain":["A","B","C"],"range":["#ff0000","#0000ff","#008000"]},"legend":null}}}
]},
{"width":452,"height":134,"encoding":{"x":{"field":"t","type":"quantitative","scale":{"domain":[-0.03,6.02]},"axis":{"title":"Time after burst on set (s)","titleFontSize":15,"titlePadding":0,"labelFontSize":12,"labelPadding":7,"values":[0,0.2,0.4,0.6,0.8,1,1.2,1.4,1.6,1.8,2,2.2,2.4,2.6,2.8,3,3.2,3.4,3.6,3.8,4,4.2,4.4,4.6,4.8,5,5.2,5.4,5.6,5.8,6],"labelExpr":"datum.value%1==0?datum.value+'':''","tickSize":{"condition":{"test":"datum.value%1==0","value":-4},"value":-2}}},"y":{"type":"quantitative","scale":{"type":"log","domain":[1,195]},"axis":{"title":"Radius (km)","titleFontSize":16,"titleX":-29,"labelFontSize":12,"labelPadding":6,"values":[1,2,3,4,5,6,7,8,9,10,20,30,40,50,60,70,80,90,100],"labelExpr":"datum.value==1?'10⁰':datum.value==10?'10¹':datum.value==100?'10²':''","tickSize":{"condition":{"test":"datum.value==1||datum.value==10||datum.value==100","value":-4},"value":-2}}}},"layer":[
{"data":{"name":"err"},"mark":{"type":"rule","color":"black","strokeWidth":1.5,"clip":true},"encoding":{"y":{"field":"rl","type":"quantitative"},"y2":{"field":"rh"}}},
{"data":{"name":"fit"},"mark":{"type":"point","filled":true,"size":32,"stroke":"black","strokeWidth":1,"opacity":1,"clip":true},"encoding":{"y":{"field":"r","type":"quantitative"},"color":{"field":"m","type":"nominal","scale":{"domain":["A","B","C"],"range":["#ff0000","#0000ff","#008000"]},"legend":null}}}
]}
],"spacing":0,"bounds":"flush"}
]}
